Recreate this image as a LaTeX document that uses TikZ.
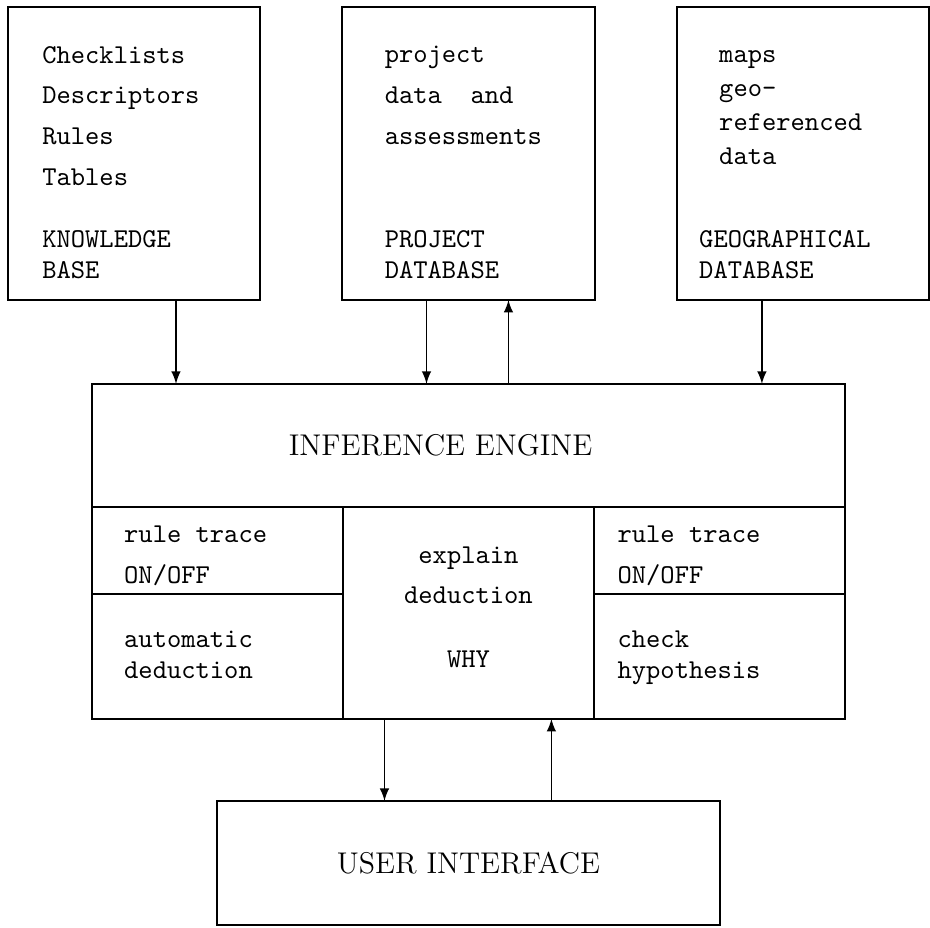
\documentclass[tikz,border=0pt]{standalone}
\usepackage{tikz}
\usetikzlibrary{arrows, positioning}
\tikzstyle{dbbox} = [rectangle, minimum width=3.26cm, minimum height=3.78cm, draw=black, line width=0.7pt, outer sep=0pt, inner sep=0pt]
\tikzstyle{cell} = [rectangle, minimum width=3.243cm, draw=black, line width=0.7pt, outer sep=0pt, inner sep=0pt]
\tikzstyle{bigbox} = [rectangle, draw=black, line width=0.7pt, outer sep=0pt, font=\fontsize{11}{13}\selectfont]
\tikzstyle{items} = [inner sep=0pt, align=left, font=\fontsize{10}{15}\selectfont\ttfamily]
\tikzstyle{dbtitle} = [inner sep=0pt, align=left, font=\fontsize{10}{11.4}\selectfont\ttfamily]
\tikzstyle{arrow} = [line width=0.6pt,->,>=latex]

\begin{document}
\begin{tikzpicture}[node distance=4.318cm]
    \useasboundingbox (0,0) rectangle (12.006,-11.968);
    % databases
    \node (kb) [dbbox] at (1.730,-1.982) {};
    \node (pd) [dbbox, right of=kb] {};
    \node (gd) [dbbox, right of=pd] {};
    \node (kbitems) [items, below right=0.496cm and 0.439cm of kb.north west] {Checklists\\Descriptors\\Rules\\Tables};
    \node (kbname) [dbtitle, above right=0.271cm and 0.439cm of kb.south west] {KNOWLEDGE\\BASE};
    \node (pditems) [items, below right=0.496cm and 0.542cm of pd.north west] {project\\data~~and\\assessments};
    \node (pdname) [dbtitle, above right=0.271cm and 0.542cm of pd.south west] {PROJECT\\DATABASE};
    \node (gditems) [items, font=\fontsize{10}{12.4}\selectfont\ttfamily, below right=0.559cm and 0.542cm of gd.north west] {maps\\geo-\\referenced\\data};
    \node (gdname) [dbtitle, above right=0.271cm and 0.284cm of gd.south west] {GEOGRAPHICAL\\DATABASE};
    % inference engine and its panels
    \node (ie) [bigbox, minimum width=9.73cm, minimum height=1.588cm, below=1.084cm of pd] {};
    \node (ietext) [font=\fontsize{11}{13}\selectfont] at ([xshift=-0.36cm]ie.center) {INFERENCE ENGINE};
    \node (ltrace) [cell, minimum height=1.123cm, below right=0pt and 0pt of ie.south west] {};
    \node (lauto) [cell, minimum height=1.614cm, below=0pt of ltrace] {};
    \node (why) [cell, minimum height=2.737cm, below right=0pt and 0pt of ltrace.north east] {};
    \node (rtrace) [cell, minimum height=1.123cm, below right=0pt and 0pt of why.north east] {};
    \node (rcheck) [cell, minimum height=1.614cm, below=0pt of rtrace] {};
    \node (ltracetext) [items, below right=0.238cm and 0.413cm of ltrace.north west] {rule trace\\ON/OFF};
    \node (lautotext) [dbtitle, below right=0.470cm and 0.413cm of lauto.north west] {automatic\\deduction};
    \node (whytext) [items, font=\fontsize{10}{14.7}\selectfont\ttfamily, align=center, below=0.509cm of why.north] {explain\\deduction\\[8.8pt]WHY};
    \node (rtracetext) [items, below right=0.238cm and 0.297cm of rtrace.north west] {rule trace\\ON/OFF};
    \node (rchecktext) [dbtitle, below right=0.470cm and 0.297cm of rcheck.north west] {check\\hypothesis};
    % user interface
    \node (ui) [bigbox, minimum width=6.494cm, minimum height=1.601cm, below=1.059cm of why] {USER INTERFACE};
    % data flow
    \draw [arrow] ([xshift=0.542cm]kb.south) -- ([xshift=0.542cm]kb.south |- ie.north);
    \draw [arrow] ([xshift=-0.542cm]pd.south) -- ([xshift=-0.542cm]pd.south |- ie.north);
    \draw [arrow] ([xshift=0.516cm]pd.south |- ie.north) -- ([xshift=0.516cm]pd.south);
    \draw [arrow] ([xshift=-0.53cm]gd.south) -- ([xshift=-0.53cm]gd.south |- ie.north);
    \draw [arrow] ([xshift=-1.084cm]why.south) -- ([xshift=-1.084cm]why.south |- ui.north);
    \draw [arrow] ([xshift=1.071cm]why.south |- ui.north) -- ([xshift=1.071cm]why.south);
\end{tikzpicture}
\end{document}
